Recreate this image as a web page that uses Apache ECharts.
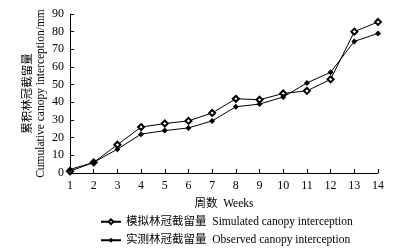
<!DOCTYPE html>
<html>
<head>
<meta charset="utf-8">
<script src="https://cdn.jsdelivr.net/npm/echarts@6/dist/echarts.min.js"></script>
<style>
html,body{margin:0;padding:0;background:#fff;}
#chart{width:402px;height:251px;}
</style>
</head>
<body>
<div id="chart"></div>
<script>
// 周数
var weeks = ['1','2','3','4','5','6','7','8','9','10','11','12','13','14'];
// 模拟林冠截留量
var simData = [1, 6, 16, 26, 28, 29.5, 34, 42, 41.5, 45, 46.5, 53, 80, 85.5];
// 实测林冠截留量
var obsData = [2, 6, 13.5, 22, 24, 25.5, 29.5, 37.5, 39, 43, 51, 57, 74.5, 79];

var simName = '模拟林冠截留量  Simulated canopy interception';
var obsName = '实测林冠截留量  Observed canopy interception';
var font = 'Liberation Serif, "Noto Sans CJK SC", serif';

var myChart = echarts.init(document.getElementById('chart'));
myChart.setOption({
    animation: false,
    textStyle: { fontFamily: font, color: '#000' },
    grid: {
        left: 70,
        right: 24,
        top: 14,
        bottom: 78
    },
    legend: {
        orient: 'vertical',
        left: 95,
        top: 211,
        itemWidth: 20,
        itemHeight: 6,
        itemGap: 7,
        textStyle: { fontSize: 11.5, color: '#000', fontFamily: font },
        data: [simName, obsName]
    },
    xAxis: {
        type: 'category',
        boundaryGap: false,
        data: weeks,
        name: '周数  Weeks',
        nameLocation: 'middle',
        nameGap: 25,
        nameMoveOverlap: false,
        nameTextStyle: { fontSize: 11.5, color: '#000' },
        axisLine: { lineStyle: { color: '#000', width: 1 } },
        axisTick: { inside: true, length: 4, lineStyle: { color: '#000' } },
        axisLabel: { fontSize: 12, color: '#000', margin: 7 },
        splitLine: { show: false }
    },
    yAxis: {
        type: 'value',
        min: 0,
        max: 90,
        interval: 10,
        name: '累积林冠截留量\nCumulative canopy interception/mm',
        nameLocation: 'middle',
        nameRotate: 90,
        nameGap: 23,
        nameMoveOverlap: false,
        nameTextStyle: { fontSize: 11.5, color: '#000', lineHeight: 13 },
        axisLine: { show: true, lineStyle: { color: '#000', width: 1 } },
        axisTick: { show: true, inside: true, length: 4, lineStyle: { color: '#000' } },
        axisLabel: { fontSize: 12, color: '#000', margin: 6 },
        splitLine: { show: false }
    },
    series: [
        {
            name: simName,
            type: 'line',
            data: simData,
            symbol: 'emptyDiamond',
            symbolSize: 6,
            itemStyle: { color: '#000', borderColor: '#000', borderWidth: 1 },
            lineStyle: { color: '#000', width: 1 }
        },
        {
            name: obsName,
            type: 'line',
            data: obsData,
            symbol: 'diamond',
            symbolSize: 6,
            itemStyle: { color: '#000' },
            lineStyle: { color: '#000', width: 1 }
        }
    ]
});
window.addEventListener('resize', function(){
    myChart.resize();
});
</script>
</body>
</html>
